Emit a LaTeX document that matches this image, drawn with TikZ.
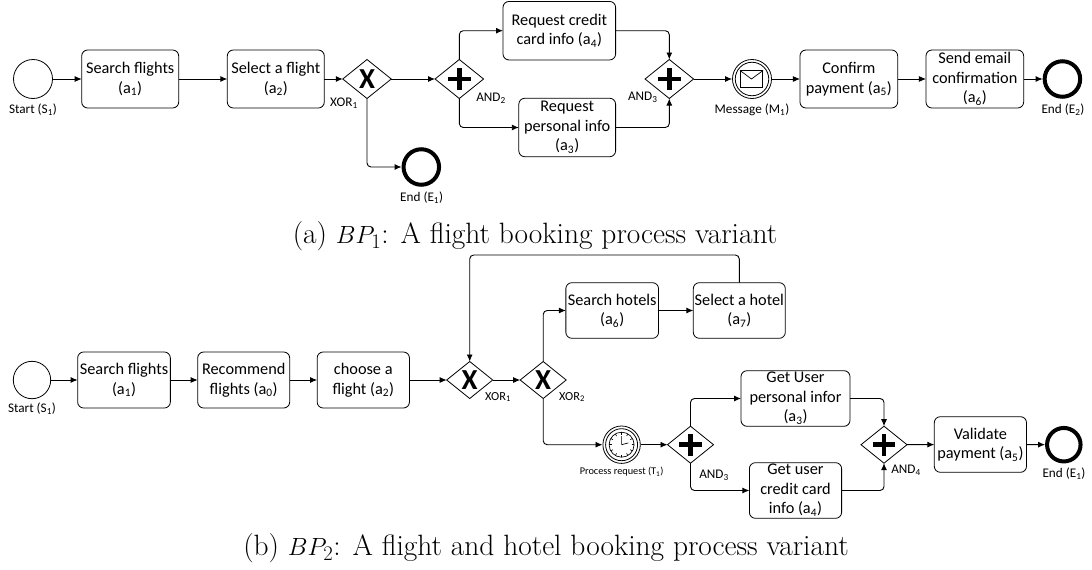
\documentclass[tikz,border=0pt]{standalone}
\usepackage{fontspec}
\usetikzlibrary{shapes.geometric,arrows.meta,calc}
\newfontfamily\carl{Carlito}
\newcommand\sbs[1]{\textsubscript{#1}}
\tikzset{
  flow/.style={draw=black,line width=0.9pt,rounded corners=4pt,-{Latex[length=7pt,width=6pt]}},
  taskbox/.style={draw=black,line width=0.8pt,rounded corners=6pt,inner sep=0pt,outer sep=0pt,align=center,font=\carl\fontsize{16.3}{19.5}\selectfont},
  startev/.style={circle,draw=black,line width=0.8pt,minimum size=39pt,inner sep=0pt,outer sep=0pt},
  endev/.style={circle,draw=black,line width=4pt,minimum size=35.5pt,inner sep=0pt,outer sep=2pt},
  gate/.style={diamond,draw=black,line width=0.8pt,inner sep=0pt,outer sep=0pt},
  xorgate/.style={gate,font=\carl\bfseries\fontsize{29}{29}\selectfont},
  andgate/.style={gate,path picture={
    \draw[line width=4.8pt] ([xshift=-11.3pt]path picture bounding box.center)--([xshift=11.3pt]path picture bounding box.center);
    \draw[line width=4.8pt] ([yshift=-11pt]path picture bounding box.center)--([yshift=11pt]path picture bounding box.center);}},
  lab/.style={inner sep=0pt,font=\carl\fontsize{13.2}{15}\selectfont},
  caplab/.style={inner sep=0pt,font=\fontsize{29.4}{34}\selectfont},
}
\begin{document}
\begin{tikzpicture}[x=1pt,y=-1pt]
\useasboundingbox (0,0) rectangle (1092,570);
% --- part a
\node[startev] (s1) at (33,79) {};
\node[taskbox,minimum width=97pt,minimum height=58pt] (a1) at (130.2,79) {Search flights\\(a\sbs{1})};
\node[taskbox,minimum width=97pt,minimum height=58pt] (a2) at (275.8,79) {Select a flight\\(a\sbs{2})};
\node[xorgate,minimum width=48.5pt,minimum height=39pt] (x1) at (367,79) {X};
\node[andgate,minimum width=48.5pt,minimum height=39pt] (g2) at (459.3,79) {};
\node[taskbox,minimum width=112.6pt,minimum height=58.5pt] (a4) at (559.3,30.7) {Request credit\\card info (a\sbs{4})};
\node[taskbox,minimum width=96.8pt,minimum height=58.5pt] (a3) at (567.2,127.5) {Request\\personal info\\(a\sbs{3})};
\node[endev] (e1) at (421.3,167) {};
\node[andgate,minimum width=48.5pt,minimum height=39pt] (g3) at (669.3,79) {};
\node[circle,draw=black,line width=0.8pt,minimum size=39pt,inner sep=0pt] (m1) at (752,79) {};
\node[circle,draw=black,line width=0.8pt,minimum size=33.5pt,inner sep=0pt] (m1i) at (752,79) {};
\node[rectangle,draw=black,line width=0.7pt,minimum width=22.5pt,minimum height=16.5pt,inner sep=0pt] (env) at (751.5,79) {};
\draw[line width=0.7pt] (env.north west) -- (env.center) -- (env.north east);
\node[taskbox,minimum width=97.7pt,minimum height=58pt] (a5) at (848.8,79) {Confirm\\payment (a\sbs{5})};
\node[taskbox,minimum width=97.7pt,minimum height=58pt] (a6) at (974.8,79) {Send email\\confirmation\\(a\sbs{6})};
\node[endev] (e2) at (1062.4,79) {};
\node[lab] (ls1) at (33,110) {Start (S\sbs{1})};
\node[lab] (lx1) at (344,103) {XOR\sbs{1}};
\node[lab] (lg2) at (491,98) {AND\sbs{2}};
\node[lab] (le1) at (421.7,198) {End (E\sbs{1})};
\node[lab] (lg3) at (642.8,97) {AND\sbs{3}};
\node[lab] (lm1) at (752,110) {Message (M\sbs{1})};
\node[lab] (le2) at (1063,110) {End (E\sbs{2})};
\draw[flow] (s1) -- (a1);
\draw[flow] (a1) -- (a2);
\draw[flow] (a2) -- (x1);
\draw[flow] (x1) -- (g2);
\draw[flow] (x1.south) |- (e1.west);
\draw[flow] (g2.north) |- (a4.west);
\draw[flow] (g2.south) |- (a3.west);
\draw[flow] (a4.east) -| (g3.north);
\draw[flow] (a3.east) -| (g3.south);
\draw[flow] (g3) -- (m1);
\draw[flow] (m1) -- (a5);
\draw[flow] (a5) -- (a6);
\draw[flow] (a6) -- (e2);
\node[caplab] (capa) at (535,236) {(a) $BP_1$: A flight booking process variant};
% --- part b
\node[startev,minimum size=37.4pt] (bs1) at (32,380) {};
\node[taskbox,minimum width=92.7pt,minimum height=56pt] (b1) at (124,380) {Search flights\\(a\sbs{1})};
\node[taskbox,minimum width=92pt,minimum height=56pt] (b0) at (243.7,380) {Recommend\\flights (a\sbs{0})};
\node[taskbox,minimum width=92.3pt,minimum height=56pt] (b2) at (363.3,380) {choose a\\flight (a\sbs{2})};
\node[xorgate,minimum width=46pt,minimum height=37pt] (bx1) at (469.7,380) {X};
\node[xorgate,minimum width=46pt,minimum height=37pt] (bx2) at (543.2,380) {X};
\node[taskbox,minimum width=92.7pt,minimum height=55.6pt] (b6) at (612.2,310.5) {Search hotels\\(a\sbs{6})};
\node[taskbox,minimum width=92pt,minimum height=55.6pt] (b7) at (739.3,310.5) {Select a hotel\\(a\sbs{7})};
\coordinate (bloop) at (469.7,255);
\node[circle,draw=black,line width=0.8pt,minimum size=37.4pt,inner sep=0pt] (t1) at (621.6,444.7) {};
\node[circle,draw=black,line width=0.8pt,minimum size=32pt,inner sep=0pt] (t1i) at (621.6,444.7) {};
\node[circle,draw=black,line width=0.7pt,minimum size=25pt,inner sep=0pt] (t1c) at (621.6,444.7) {};
\foreach \ang in {0,30,...,330}{\draw[line width=0.6pt] ($(t1c.center)+(\ang:10pt)$) -- ($(t1c.center)+(\ang:12.5pt)$);}
\draw[line width=0.7pt] (t1c.center) -- ++(90:8.5pt) (t1c.center) -- ++(15:7pt);
\node[andgate,minimum width=46pt,minimum height=37pt] (bg3) at (690.5,444.7) {};
\node[taskbox,minimum width=109pt,minimum height=55.6pt] (b3) at (795.5,398.5) {Get User\\personal infor\\(a\sbs{3})};
\node[taskbox,minimum width=92.2pt,minimum height=55.6pt] (b4) at (795.5,490.5) {Get user\\credit card\\info (a\sbs{4})};
\node[andgate,minimum width=46pt,minimum height=37pt] (bg4) at (884,444.7) {};
\node[taskbox,minimum width=92.2pt,minimum height=55.6pt] (b5) at (980.4,444.5) {Validate\\payment (a\sbs{5})};
\node[endev,minimum size=33.5pt] (be1) at (1063.8,444.7) {};
\node[lab] (lbs1) at (32,409) {Start (S\sbs{1})};
\node[lab,font=\carl\fontsize{12.3}{14}\selectfont] (lbx1) at (498,397) {XOR\sbs{1}};
\node[lab,font=\carl\fontsize{12.3}{14}\selectfont] (lbx2) at (572,397) {XOR\sbs{2}};
\node[lab,font=\carl\fontsize{10.3}{12}\selectfont] (lt1) at (621.6,472) {Process request (T\sbs{1})};
\node[lab] (lbg3) at (714,475.7) {AND\sbs{3}};
\node[lab] (lbg4) at (906,470) {AND\sbs{4}};
\node[lab] (lbe1) at (1064,474) {End (E\sbs{1})};
\draw[flow] (bs1) -- (b1);
\draw[flow] (b1) -- (b0);
\draw[flow] (b0) -- (b2);
\draw[flow] (b2) -- (bx1);
\draw[flow] (bx1) -- (bx2);
\draw[flow] (bx2.north) |- (b6.west);
\draw[flow] (b6) -- (b7);
\draw[flow] (b7.north) |- (bloop) -- (bx1.north);
\draw[flow] (bx2.south) |- (t1.west);
\draw[flow] (t1) -- (bg3);
\draw[flow] (bg3.north) |- (b3.west);
\draw[flow] (bg3.south) |- (b4.west);
\draw[flow] (b3.east) -| (bg4.north);
\draw[flow] (b4.east) -| (bg4.south);
\draw[flow] (bg4) -- (b5);
\draw[flow] (b5) -- (be1);
\node[caplab] (capb) at (546,548) {(b) $BP_2$: A flight and hotel booking process variant};
\end{tikzpicture}
\end{document}
